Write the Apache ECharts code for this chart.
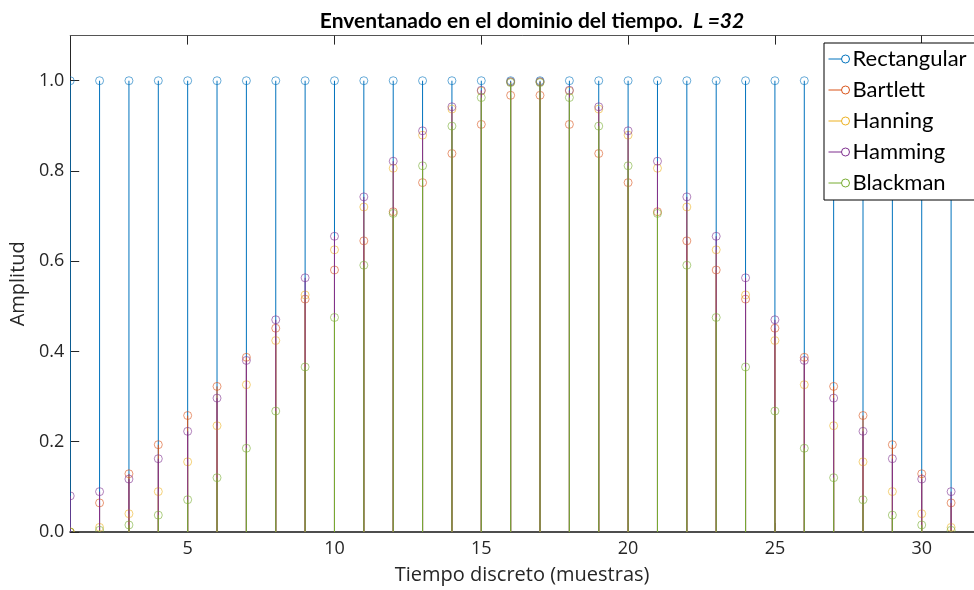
<!DOCTYPE html>
<html><head><meta charset="utf-8">
<script src="https://cdn.jsdelivr.net/npm/echarts@6/dist/echarts.min.js"></script>
<style>html,body{margin:0;padding:0;background:#fff}#c{width:974px;height:590px}</style>
</head><body><div id="c"></div>
<script>
const samples = [1,2,3,4,5,6,7,8,9,10,11,12,13,14,15,16,17,18,19,20,21,22,23,24,25,26,27,28,29,30,31,32];
const rectangular = [1,1,1,1,1,1,1,1,1,1,1,1,1,1,1,1,1,1,1,1,1,1,1,1,1,1,1,1,1,1,1,1];
const bartlett = [0,0.0645,0.1290,0.1935,0.2581,0.3226,0.3871,0.4516,0.5161,0.5806,0.6452,0.7097,0.7742,0.8387,0.9032,0.9677,0.9677,0.9032,0.8387,0.7742,0.7097,0.6452,0.5806,0.5161,0.4516,0.3871,0.3226,0.2581,0.1935,0.1290,0.0645,0];
const hanning = [0,0.0102,0.0405,0.0896,0.1555,0.2355,0.3264,0.4243,0.5253,0.6253,0.7202,0.8061,0.8794,0.9372,0.9771,0.9974,0.9974,0.9771,0.9372,0.8794,0.8061,0.7202,0.6253,0.5253,0.4243,0.3264,0.2355,0.1555,0.0896,0.0405,0.0102,0];
const hamming = [0.08,0.0894,0.1173,0.1624,0.2231,0.2967,0.3802,0.4703,0.5633,0.6553,0.7426,0.8216,0.8890,0.9422,0.9789,0.9976,0.9976,0.9789,0.9422,0.8890,0.8216,0.7426,0.6553,0.5633,0.4703,0.3802,0.2967,0.2231,0.1624,0.1173,0.0894,0.08];
const blackman = [0,0.0038,0.0156,0.0374,0.0715,0.1203,0.1856,0.2680,0.3657,0.4754,0.5912,0.7060,0.8115,0.8995,0.9627,0.9958,0.9958,0.9627,0.8995,0.8115,0.7060,0.5912,0.4754,0.3657,0.2680,0.1856,0.1203,0.0715,0.0374,0.0156,0.0038,0];
const seriesNames = ['Rectangular','Bartlett','Hanning','Hamming','Blackman'];
const xTicks = [5,10,15,20,25,30];
const yTicks = [0,0.2,0.4,0.6,0.8,1.0];

const colors = ['#0072BD','#D95319','#EDB120','#7E2F8E','#77AC30'];
const allData = [rectangular, bartlett, hanning, hamming, blackman];
const FONT = '"Open Sans", "Noto Sans", sans-serif';
const FONT2 = 'Lato, "Open Sans", sans-serif';
const AX = '#262626';

function stemSeries(name, vals, color) {
  return {
    name, type: 'custom', xAxisIndex: 0, yAxisIndex: 0,
    itemStyle: { color },
    clip: true,
    data: samples.map((x, i) => [x, vals[i]]),
    renderItem: function (params, api) {
      const x = api.value(0), y = api.value(1);
      const p0 = api.coord([x, 0]), p1 = api.coord([x, y]);
      return { type: 'group', children: [
        { type: 'line', shape: { x1: p0[0], y1: p0[1], x2: p1[0], y2: p1[1] }, style: { stroke: color, lineWidth: 1 } },
        { type: 'circle', shape: { cx: p1[0], cy: p1[1], r: 4 }, style: { fill: 'none', stroke: color, lineWidth: 0.8, opacity: 0.75 } }
      ]};
    }
  };
}

const chart = echarts.init(document.getElementById('c'), null, { renderer: 'canvas' });
chart.setOption({
  animation: false,
  backgroundColor: '#fff',
  title: {
    text: '{b|Enventanado en el dominio del tiempo.  }{i|L =32}',
    left: 527, top: 6, textAlign: 'center',
    textStyle: { rich: {
      b: { fontFamily: FONT2, fontSize: 21, fontWeight: 'bold', color: '#000' },
      i: { fontFamily: FONT2, fontSize: 21, fontWeight: 'bold', fontStyle: 'italic', color: '#000' }
    } }
  },
  grid: { left: 69.5, right: 0, top: 35.6, bottom: 52.3, containLabel: false },
  graphic: [{
    type: 'rect', z: 5, left: 823.5, top: 42.5,
    shape: { width: 170, height: 157 },
    style: { fill: '#fff', stroke: '#000', lineWidth: 1 }
  }],
  legend: {
    orient: 'vertical', left: 823, top: 43, z: 10,
    backgroundColor: 'transparent', borderWidth: 0,
    padding: [4, 8, 4, 3], itemGap: 7, itemWidth: 21, itemHeight: 8,
    textStyle: { fontFamily: FONT2, fontSize: 22, color: '#000', lineHeight: 24, padding: [0, 0, 0, -2] },
    data: seriesNames.map((n, i) => ({
      name: n,
      icon: 'path://M0,5 H13 M21,5 A4,4 0 1 1 13,5 A4,4 0 1 1 21,5',
      itemStyle: { color: 'none', borderColor: colors[i], borderWidth: 1 }
    }))
  },
  xAxis: [{
    type: 'value', min: 1, max: 31.78, position: 'bottom',
    name: 'Tiempo discreto (muestras)', nameLocation: 'middle', nameGap: 33,
    nameTextStyle: { fontFamily: FONT, fontSize: 20, color: AX },
    axisLine: { onZero: false, lineStyle: { color: '#4d4d4d', width: 2 } },
    axisTick: { inside: true, length: 9, customValues: xTicks, lineStyle: { color: AX } },
    axisLabel: { customValues: xTicks, fontFamily: FONT, fontSize: 18, color: AX, margin: 8 },
    splitLine: { show: false }
  }, {
    type: 'value', min: 1, max: 31.78, position: 'top',
    axisLine: { onZero: false, lineStyle: { color: '#555', width: 1 } },
    axisTick: { inside: true, length: 9, customValues: xTicks, lineStyle: { color: AX } },
    axisLabel: { show: false }, splitLine: { show: false }
  }],
  yAxis: [{
    type: 'value', min: 0, max: 1.1, position: 'left',
    name: 'Amplitud', nameLocation: 'middle', nameGap: 42,
    nameTextStyle: { fontFamily: FONT, fontSize: 20, color: AX },
    axisLine: { show: true, onZero: false, lineStyle: { color: AX, width: 1 } },
    axisTick: { show: true, inside: true, length: 9, customValues: yTicks, lineStyle: { color: AX } },
    axisLabel: { customValues: yTicks, formatter: v => v.toFixed(1), fontFamily: FONT, fontSize: 18, color: AX, margin: 6 },
    splitLine: { show: false }
  }],
  series: seriesNames.map((n, i) => stemSeries(n, allData[i], colors[i]))
});
</script></body></html>
